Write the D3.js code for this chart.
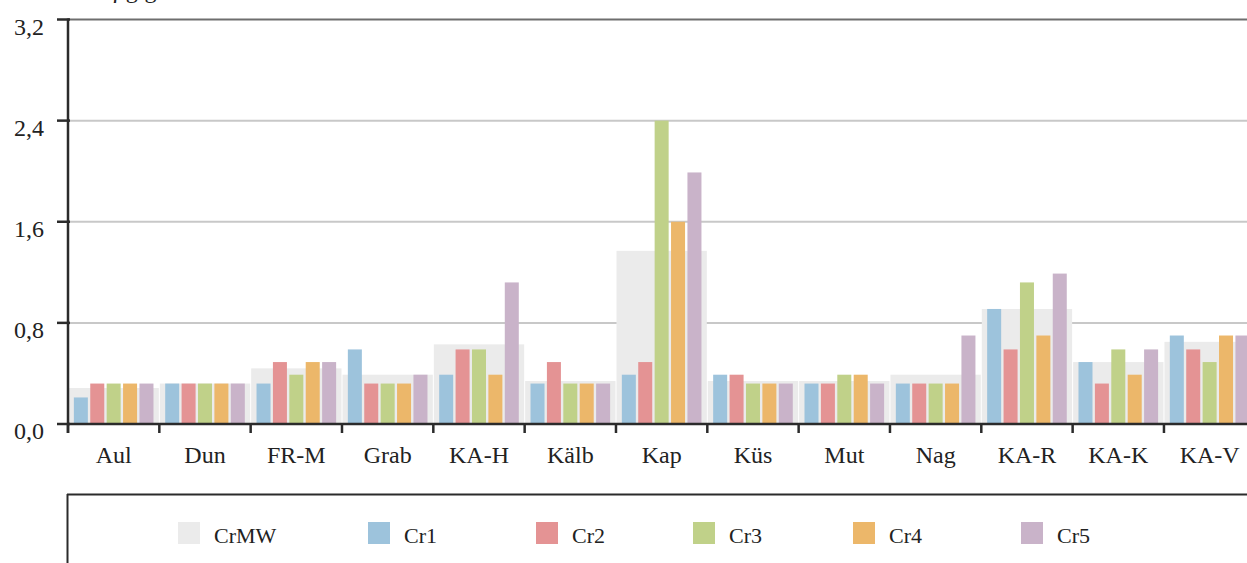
<!DOCTYPE html>
<html>
<head>
<meta charset="utf-8">
<script src="https://cdn.jsdelivr.net/npm/d3@7"></script>
<style>
  html, body { margin: 0; padding: 0; background: #fff; overflow: hidden; }
  svg { display: block; font-family: "Liberation Serif", "Times New Roman", serif; }
</style>
</head>
<body>
<svg id="chart" width="1247" height="563"></svg>
<script>
// Sites along the x axis
const categories = ["Aul", "Dun", "FR-M", "Grab", "KA-H", "Kälb", "Kap", "Küs", "Mut", "Nag", "KA-R", "KA-K", "KA-V"];

// Series names (CrMW = mean of the five replicates, drawn as a wide backdrop)
const seriesNames = ["CrMW", "Cr1", "Cr2", "Cr3", "Cr4", "Cr5"];

// Values per series, in category order
const crMW = [0.285, 0.32, 0.44, 0.39, 0.63, 0.34, 1.37, 0.34, 0.34, 0.39, 0.91, 0.49, 0.65];
const cr1  = [0.21, 0.32, 0.32, 0.59, 0.39, 0.32, 0.39, 0.39, 0.32, 0.32, 0.91, 0.49, 0.70];
const cr2  = [0.32, 0.32, 0.49, 0.32, 0.59, 0.49, 0.49, 0.39, 0.32, 0.32, 0.59, 0.32, 0.59];
const cr3  = [0.32, 0.32, 0.39, 0.32, 0.59, 0.32, 2.40, 0.32, 0.39, 0.32, 1.12, 0.59, 0.49];
const cr4  = [0.32, 0.32, 0.49, 0.32, 0.39, 0.32, 1.60, 0.32, 0.39, 0.32, 0.70, 0.39, 0.70];
const cr5  = [0.32, 0.32, 0.49, 0.39, 1.12, 0.32, 1.99, 0.32, 0.32, 0.70, 1.19, 0.59, 0.70];

// Y-axis ticks and their labels (decimal comma)
const yTicks = [0, 0.8, 1.6, 2.4, 3.2];
const yTickLabels = ["0,0", "0,8", "1,6", "2,4", "3,2"];

const unitLabel = "µg/g";

const colors = {
  CrMW: "#ebebeb",
  Cr1: "#9dc3dc",
  Cr2: "#e49394",
  Cr3: "#c0d189",
  Cr4: "#ecb76a",
  Cr5: "#c9b3c9"
};

const replicateSeries = [
  { key: "Cr1", values: cr1 },
  { key: "Cr2", values: cr2 },
  { key: "Cr3", values: cr3 },
  { key: "Cr4", values: cr4 },
  { key: "Cr5", values: cr5 }
];

const svg = d3.select("#chart");
const W = 1247, H = 563;
const axisColor = "#2b2b2b";

// Plot frame
const left = 68, bandStep = 91.33;
const right = left + bandStep * categories.length;
const y0px = 424, yTopPx = 19.5;

const x = d3.scaleBand().domain(categories).range([left, right]).padding(0);
const xInner = d3.scaleBand()
  .domain(replicateSeries.map(s => s.key))
  .range([0, x.bandwidth()])
  .paddingInner(0.146)
  .paddingOuter(0.357);
const y = d3.scaleLinear().domain([0, 3.2]).range([y0px, yTopPx]);

// Gridlines
const grid = svg.append("g");
grid.selectAll("line")
  .data(yTicks.filter(t => t > 0))
  .join("line")
  .attr("x1", left).attr("x2", W)
  .attr("y1", d => y(d)).attr("y2", d => y(d))
  .attr("stroke", d => d === 3.2 ? "#6e6e6e" : "#c8c8c8")
  .attr("stroke-width", 2);

// Mean backdrop bars
svg.append("g").selectAll("rect")
  .data(categories.map((c, i) => ({ c, v: crMW[i] })))
  .join("rect")
  .attr("x", d => x(d.c) + 0.5)
  .attr("width", x.bandwidth() - 1)
  .attr("y", d => y(d.v))
  .attr("height", d => y(0) - y(d.v))
  .attr("fill", colors.CrMW);

// Replicate bars
const groups = svg.append("g").selectAll("g")
  .data(categories)
  .join("g")
  .attr("transform", c => `translate(${x(c)},0)`);

groups.selectAll("rect")
  .data((c, i) => replicateSeries.map(s => ({ key: s.key, v: s.values[i] })))
  .join("rect")
  .attr("x", d => xInner(d.key))
  .attr("width", xInner.bandwidth())
  .attr("y", d => y(d.v))
  .attr("height", d => y(0) - y(d.v))
  .attr("fill", d => colors[d.key]);

// X axis
const xAxisG = svg.append("g");
xAxisG.append("line")
  .attr("x1", left - 1).attr("x2", W)
  .attr("y1", y0px).attr("y2", y0px)
  .attr("stroke", axisColor).attr("stroke-width", 2.5);
xAxisG.selectAll("line.tick")
  .data(d3.range(categories.length + 1))
  .join("line")
  .attr("class", "tick")
  .attr("x1", i => left + i * x.step()).attr("x2", i => left + i * x.step())
  .attr("y1", y0px).attr("y2", y0px + 9)
  .attr("stroke", axisColor).attr("stroke-width", 2.5);
xAxisG.selectAll("text")
  .data(categories)
  .join("text")
  .attr("x", c => x(c) + x.bandwidth() / 2)
  .attr("y", y0px + 39)
  .attr("text-anchor", "middle")
  .attr("font-size", 24)
  .attr("fill", "#222")
  .text(c => c);

// Y axis
const yAxisG = svg.append("g");
yAxisG.append("line")
  .attr("x1", left).attr("x2", left)
  .attr("y1", yTopPx - 1).attr("y2", y0px + 9)
  .attr("stroke", axisColor).attr("stroke-width", 2.5);
yAxisG.selectAll("line.tick")
  .data(yTicks)
  .join("line")
  .attr("class", "tick")
  .attr("x1", left - 11).attr("x2", left + 2)
  .attr("y1", d => y(d)).attr("y2", d => y(d))
  .attr("stroke", axisColor).attr("stroke-width", 2.5);
yAxisG.selectAll("text")
  .data(yTicks)
  .join("text")
  .attr("x", 44)
  .attr("y", d => y(d) + 15)
  .attr("text-anchor", "end")
  .attr("font-size", 24)
  .attr("fill", "#222")
  .text((d, i) => yTickLabels[i]);

// Unit label above the axis
svg.append("text")
  .attr("x", 112).attr("y", -2)
  .attr("font-size", 24)
  .attr("fill", "#222")
  .text(unitLabel);

// Legend box and entries
const legend = svg.append("g");
legend.append("line")
  .attr("x1", 67).attr("x2", W)
  .attr("y1", 494.5).attr("y2", 494.5)
  .attr("stroke", axisColor).attr("stroke-width", 2);
legend.append("line")
  .attr("x1", 67.5).attr("x2", 67.5)
  .attr("y1", 494).attr("y2", H)
  .attr("stroke", axisColor).attr("stroke-width", 2);

const legendX = [178, 368, 536, 693, 853, 1021];
const items = legend.selectAll("g.item")
  .data(seriesNames)
  .join("g")
  .attr("class", "item")
  .attr("transform", (d, i) => `translate(${legendX[i]},522)`);
items.append("rect")
  .attr("width", 22).attr("height", 22)
  .attr("fill", d => colors[d]);
items.append("text")
  .attr("x", 36).attr("y", 21)
  .attr("font-size", 22)
  .attr("fill", "#222")
  .text(d => d);
</script>
</body>
</html>
